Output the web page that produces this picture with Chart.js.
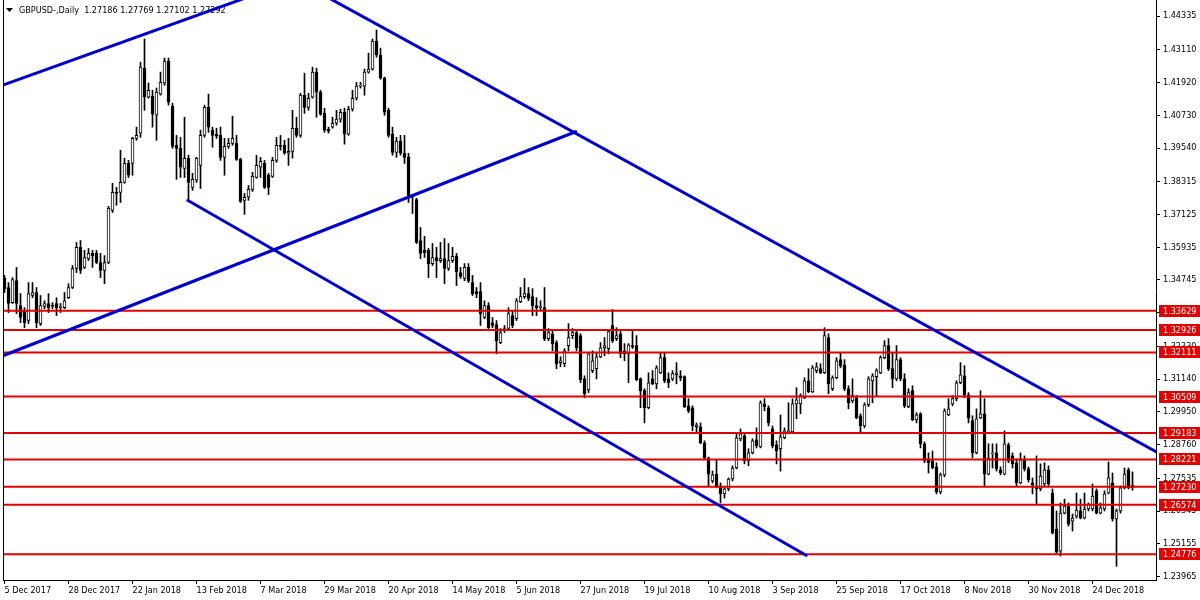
<!DOCTYPE html>
<html>
<head>
<meta charset="utf-8">
<script src="https://cdn.jsdelivr.net/npm/chart.js@4/dist/chart.umd.min.js"></script>
<style>
  html, body { margin: 0; padding: 0; background: #fff; }
</style>
</head>
<body>
<canvas id="chart" width="1200" height="600"></canvas>
<script>
// GBPUSD daily candles, 5 Dec 2017 .. early Jan 2019

const symbol = 'GBPUSD-,Daily';
const dateLabels = ['5 Dec 2017', '28 Dec 2017', '22 Jan 2018', '13 Feb 2018', '7 Mar 2018', '29 Mar 2018',
  '20 Apr 2018', '14 May 2018', '5 Jun 2018', '27 Jun 2018', '19 Jul 2018', '10 Aug 2018', '3 Sep 2018',
  '25 Sep 2018', '17 Oct 2018', '8 Nov 2018', '30 Nov 2018', '24 Dec 2018'];
const barsPerLabel = 16;

const opens = [
  1.3480, 1.3447, 1.3392, 1.3472, 1.3381, 1.3363, 1.3327, 1.3418, 1.3429, 1.3316,
  1.3378, 1.3389, 1.3381, 1.3389, 1.3374, 1.3374, 1.3410, 1.3447, 1.3516, 1.3593,
  1.3520, 1.3552, 1.3571, 1.3571, 1.3538, 1.3509, 1.3538, 1.3727, 1.3793, 1.3793,
  1.3829, 1.3898, 1.3898, 1.3989, 1.4008, 1.4244, 1.4139, 1.4142, 1.4073, 1.4150,
  1.4190, 1.4270, 1.4106, 1.3964, 1.3953, 1.3880, 1.3917, 1.3811, 1.3837, 1.3891,
  1.4000, 1.4102, 1.4019, 1.4004, 1.4000, 1.3920, 1.3960, 1.3971, 1.3971, 1.3913,
  1.3764, 1.3775, 1.3804, 1.3847, 1.3884, 1.3898, 1.3855, 1.3851, 1.3909, 1.3964,
  1.3964, 1.3935, 1.3942, 1.4026, 1.4000, 1.4146, 1.4102, 1.4139, 1.4230, 1.4157,
  1.4080, 1.4022, 1.4030, 1.4044, 1.4059, 1.4084, 1.4004, 1.4095, 1.4135, 1.4179,
  1.4179, 1.4230, 1.4241, 1.4343, 1.4292, 1.4208, 1.4091, 1.4004, 1.3938, 1.3979,
  1.3935, 1.3920, 1.3778, 1.3767, 1.3618, 1.3582, 1.3582, 1.3534, 1.3556, 1.3545,
  1.3552, 1.3516, 1.3545, 1.3560, 1.3501, 1.3480, 1.3520, 1.3465, 1.3432, 1.3432,
  1.3338, 1.3381, 1.3319, 1.3312, 1.3247, 1.3290, 1.3298, 1.3345, 1.3334, 1.3396,
  1.3414, 1.3425, 1.3414, 1.3381, 1.3374, 1.3374, 1.3261, 1.3279, 1.3247, 1.3174,
  1.3170, 1.3236, 1.3272, 1.3283, 1.3272, 1.3115, 1.3075, 1.3145, 1.3152, 1.3195,
  1.3228, 1.3225, 1.3309, 1.3261, 1.3279, 1.3217, 1.3206, 1.3236, 1.3236, 1.3115,
  1.3072, 1.3010, 1.3115, 1.3097, 1.3137, 1.3192, 1.3115, 1.3115, 1.3130, 1.3126,
  1.3123, 1.3017, 1.3010, 1.2941, 1.2941, 1.2882, 1.2828, 1.2744, 1.2769, 1.2726,
  1.2697, 1.2715, 1.2751, 1.2791, 1.2897, 1.2908, 1.2817, 1.2846, 1.2893, 1.2868,
  1.3024, 1.3010, 1.2933, 1.2875, 1.2861, 1.2901, 1.2919, 1.2922, 1.3024, 1.3024,
  1.3046, 1.3108, 1.3068, 1.3145, 1.3152, 1.3137, 1.3265, 1.3079, 1.3119, 1.3185,
  1.3166, 1.3079, 1.3035, 1.3046, 1.2981, 1.2944, 1.3021, 1.3108, 1.3123, 1.3137,
  1.3192, 1.3236, 1.3152, 1.3115, 1.3185, 1.3115, 1.3014, 1.3072, 1.2966, 1.2988,
  1.2879, 1.2824, 1.2817, 1.2795, 1.2704, 1.2766, 1.2984, 1.3024, 1.3043, 1.3101,
  1.3126, 1.3057, 1.2963, 1.2846, 1.2973, 1.2988, 1.2769, 1.2842, 1.2846, 1.2784,
  1.2769, 1.2875, 1.2835, 1.2810, 1.2737, 1.2821, 1.2788, 1.2737, 1.2722, 1.2715,
  1.2733, 1.2784, 1.2700, 1.2569, 1.2489, 1.2627, 1.2653, 1.2598, 1.2616, 1.2635,
  1.2609, 1.2642, 1.2642, 1.2708, 1.2627, 1.2642, 1.2700, 1.2737, 1.2606, 1.2635, 1.2719, 1.2784, 1.27186
];
const highs = [
  1.3491, 1.3465, 1.3483, 1.3520, 1.3425, 1.3374, 1.3465, 1.3465, 1.3447, 1.3418,
  1.3399, 1.3425, 1.3392, 1.3410, 1.3389, 1.3429, 1.3461, 1.3527, 1.3611, 1.3618,
  1.3582, 1.3589, 1.3582, 1.3582, 1.3571, 1.3563, 1.3742, 1.3826, 1.3811, 1.3946,
  1.3917, 1.3909, 1.3993, 1.4030, 1.4266, 1.4350, 1.4190, 1.4164, 1.4172, 1.4230,
  1.4281, 1.4281, 1.4117, 1.4000, 1.3993, 1.4066, 1.3928, 1.3862, 1.3920, 1.4019,
  1.4110, 1.4150, 1.4030, 1.4026, 1.4030, 1.3989, 1.3989, 1.4070, 1.4000, 1.3917,
  1.3789, 1.3818, 1.3866, 1.3928, 1.3920, 1.3909, 1.3862, 1.3920, 1.3993, 1.4000,
  1.3982, 1.3989, 1.4091, 1.4066, 1.4153, 1.4226, 1.4153, 1.4248, 1.4244, 1.4164,
  1.4099, 1.4030, 1.4066, 1.4091, 1.4095, 1.4099, 1.4106, 1.4164, 1.4193, 1.4193,
  1.4241, 1.4299, 1.4350, 1.4383, 1.4317, 1.4212, 1.4099, 1.4030, 1.3993, 1.4000,
  1.4000, 1.3935, 1.3782, 1.3771, 1.3665, 1.3633, 1.3589, 1.3607, 1.3593, 1.3611,
  1.3625, 1.3607, 1.3593, 1.3571, 1.3520, 1.3534, 1.3534, 1.3491, 1.3447, 1.3465,
  1.3399, 1.3392, 1.3338, 1.3327, 1.3298, 1.3309, 1.3374, 1.3363, 1.3407, 1.3447,
  1.3480, 1.3447, 1.3443, 1.3410, 1.3399, 1.3447, 1.3298, 1.3290, 1.3254, 1.3196,
  1.3225, 1.3316, 1.3298, 1.3290, 1.3279, 1.3126, 1.3210, 1.3217, 1.3210, 1.3247,
  1.3265, 1.3294, 1.3367, 1.3301, 1.3294, 1.3243, 1.3243, 1.3290, 1.3272, 1.3119,
  1.3079, 1.3137, 1.3145, 1.3163, 1.3210, 1.3210, 1.3137, 1.3145, 1.3174, 1.3145,
  1.3126, 1.3043, 1.3017, 1.2955, 1.2955, 1.2890, 1.2831, 1.2780, 1.2820, 1.2737,
  1.2719, 1.2755, 1.2799, 1.2919, 1.2933, 1.2919, 1.2861, 1.2897, 1.2937, 1.3035,
  1.3043, 1.3017, 1.2944, 1.2890, 1.2984, 1.2937, 1.3028, 1.3043, 1.3083, 1.3061,
  1.3119, 1.3152, 1.3163, 1.3174, 1.3170, 1.3301, 1.3279, 1.3126, 1.3192, 1.3210,
  1.3185, 1.3090, 1.3115, 1.3054, 1.2988, 1.3028, 1.3123, 1.3134, 1.3152, 1.3199,
  1.3254, 1.3261, 1.3210, 1.3236, 1.3192, 1.3134, 1.3079, 1.3090, 1.2992, 1.2992,
  1.2886, 1.2846, 1.2853, 1.2810, 1.2773, 1.3006, 1.3043, 1.3054, 1.3108, 1.3174,
  1.3163, 1.3065, 1.2981, 1.3006, 1.3072, 1.3043, 1.2879, 1.2879, 1.2879, 1.2795,
  1.2926, 1.2882, 1.2846, 1.2824, 1.2846, 1.2835, 1.2795, 1.2755, 1.2835, 1.2806,
  1.2810, 1.2799, 1.2715, 1.2635, 1.2664, 1.2678, 1.2664, 1.2624, 1.2700, 1.2678,
  1.2700, 1.2664, 1.2733, 1.2715, 1.2664, 1.2708, 1.2813, 1.2773, 1.2642, 1.2726, 1.2791, 1.2791, 1.27769
];
const lows = [
  1.3429, 1.3356, 1.3389, 1.3352, 1.3319, 1.3301, 1.3316, 1.3410, 1.3301, 1.3309,
  1.3370, 1.3356, 1.3370, 1.3345, 1.3356, 1.3370, 1.3407, 1.3443, 1.3501, 1.3498,
  1.3516, 1.3545, 1.3520, 1.3534, 1.3483, 1.3461, 1.3534, 1.3720, 1.3746, 1.3756,
  1.3826, 1.3847, 1.3855, 1.3982, 1.3993, 1.4091, 1.4135, 1.4030, 1.3982, 1.4146,
  1.4182, 1.4110, 1.3953, 1.3840, 1.3847, 1.3847, 1.3767, 1.3800, 1.3829, 1.3807,
  1.3993, 1.4011, 1.3957, 1.3989, 1.3909, 1.3855, 1.3953, 1.3964, 1.3909, 1.3756,
  1.3713, 1.3764, 1.3796, 1.3844, 1.3847, 1.3807, 1.3785, 1.3847, 1.3902, 1.3946,
  1.3931, 1.3891, 1.3917, 1.3993, 1.3993, 1.4080, 1.4091, 1.4135, 1.4066, 1.4073,
  1.4011, 1.4008, 1.4026, 1.4037, 1.4048, 1.3968, 1.4000, 1.4088, 1.4128, 1.4172,
  1.4146, 1.4226, 1.4237, 1.4284, 1.4204, 1.4073, 1.3993, 1.3928, 1.3920, 1.3928,
  1.3898, 1.3756, 1.3716, 1.3607, 1.3552, 1.3556, 1.3483, 1.3527, 1.3483, 1.3538,
  1.3461, 1.3509, 1.3538, 1.3454, 1.3480, 1.3472, 1.3465, 1.3418, 1.3410, 1.3309,
  1.3334, 1.3298, 1.3301, 1.3206, 1.3243, 1.3283, 1.3290, 1.3301, 1.3327, 1.3392,
  1.3407, 1.3399, 1.3345, 1.3345, 1.3363, 1.3254, 1.3254, 1.3217, 1.3152, 1.3159,
  1.3159, 1.3217, 1.3261, 1.3217, 1.3101, 1.3046, 1.3065, 1.3137, 1.3115, 1.3192,
  1.3199, 1.3206, 1.3247, 1.3254, 1.3192, 1.3181, 1.3101, 1.3225, 1.3108, 1.3010,
  1.2955, 1.3006, 1.3094, 1.3079, 1.3134, 1.3101, 1.3083, 1.3108, 1.3097, 1.3108,
  1.3010, 1.2992, 1.2926, 1.2922, 1.2879, 1.2824, 1.2726, 1.2737, 1.2719, 1.2664,
  1.2682, 1.2708, 1.2744, 1.2788, 1.2890, 1.2806, 1.2799, 1.2842, 1.2864, 1.2864,
  1.2999, 1.2944, 1.2864, 1.2806, 1.2780, 1.2897, 1.2915, 1.2919, 1.2970, 1.2988,
  1.3043, 1.3065, 1.3065, 1.3137, 1.3134, 1.3134, 1.3061, 1.3072, 1.3115, 1.3155,
  1.3072, 1.3006, 1.3028, 1.2970, 1.2922, 1.2937, 1.3014, 1.3028, 1.3054, 1.3134,
  1.3188, 1.3145, 1.3083, 1.3108, 1.3108, 1.3010, 1.3010, 1.2963, 1.2955, 1.2864,
  1.2810, 1.2773, 1.2788, 1.2697, 1.2697, 1.2759, 1.2981, 1.3017, 1.3035, 1.3097,
  1.3046, 1.2955, 1.2828, 1.2842, 1.2970, 1.2726, 1.2766, 1.2791, 1.2780, 1.2766,
  1.2766, 1.2810, 1.2791, 1.2726, 1.2733, 1.2780, 1.2740, 1.2697, 1.2660, 1.2708,
  1.2726, 1.2726, 1.2551, 1.2482, 1.2471, 1.2624, 1.2580, 1.2562, 1.2609, 1.2606,
  1.2606, 1.2635, 1.2635, 1.2624, 1.2624, 1.2635, 1.2697, 1.2598, 1.2434, 1.2627, 1.2715, 1.2715, 1.27102
];
const closes = [
  1.3443, 1.3389, 1.3476, 1.3389, 1.3338, 1.3319, 1.3425, 1.3429, 1.3319, 1.3381,
  1.3389, 1.3374, 1.3379, 1.3374, 1.3378, 1.3399, 1.3447, 1.3516, 1.3593, 1.3509,
  1.3556, 1.3571, 1.3563, 1.3538, 1.3509, 1.3538, 1.3735, 1.3793, 1.3789, 1.3829,
  1.3898, 1.3855, 1.3989, 1.4000, 1.4248, 1.4139, 1.4164, 1.4077, 1.4157, 1.4193,
  1.4270, 1.4121, 1.3960, 1.3953, 1.3884, 1.3917, 1.3829, 1.3840, 1.3917, 1.4000,
  1.4102, 1.4030, 1.4000, 1.3997, 1.3920, 1.3960, 1.3971, 1.3989, 1.3913, 1.3760,
  1.3775, 1.3804, 1.3851, 1.3891, 1.3906, 1.3811, 1.3811, 1.3909, 1.3964, 1.3960,
  1.3935, 1.3942, 1.4026, 1.4000, 1.4146, 1.4102, 1.4135, 1.4230, 1.4157, 1.4077,
  1.4019, 1.4015, 1.4044, 1.4059, 1.4084, 1.4004, 1.4095, 1.4135, 1.4179, 1.4182,
  1.4230, 1.4241, 1.4343, 1.4292, 1.4208, 1.4084, 1.4000, 1.3938, 1.3979, 1.3935,
  1.3920, 1.3782, 1.3775, 1.3611, 1.3571, 1.3574, 1.3534, 1.3556, 1.3545, 1.3552,
  1.3516, 1.3545, 1.3560, 1.3505, 1.3487, 1.3520, 1.3472, 1.3425, 1.3425, 1.3352,
  1.3381, 1.3301, 1.3309, 1.3254, 1.3283, 1.3298, 1.3352, 1.3309, 1.3399, 1.3414,
  1.3425, 1.3407, 1.3381, 1.3374, 1.3378, 1.3261, 1.3283, 1.3243, 1.3170, 1.3181,
  1.3217, 1.3265, 1.3283, 1.3228, 1.3112, 1.3061, 1.3206, 1.3181, 1.3195, 1.3228,
  1.3236, 1.3287, 1.3254, 1.3272, 1.3206, 1.3206, 1.3239, 1.3232, 1.3112, 1.3072,
  1.3010, 1.3101, 1.3097, 1.3155, 1.3192, 1.3108, 1.3101, 1.3134, 1.3137, 1.3119,
  1.3014, 1.2999, 1.2944, 1.2948, 1.2882, 1.2828, 1.2769, 1.2766, 1.2726, 1.2697,
  1.2715, 1.2751, 1.2791, 1.2901, 1.2915, 1.2817, 1.2846, 1.2890, 1.2871, 1.3028,
  1.3014, 1.2955, 1.2871, 1.2853, 1.2904, 1.2926, 1.2926, 1.3024, 1.3039, 1.3054,
  1.3108, 1.3068, 1.3155, 1.3159, 1.3137, 1.3272, 1.3097, 1.3119, 1.3181, 1.3163,
  1.3079, 1.3028, 1.3054, 1.2973, 1.2944, 1.3021, 1.3115, 1.3126, 1.3145, 1.3192,
  1.3236, 1.3152, 1.3115, 1.3185, 1.3115, 1.3017, 1.3065, 1.2966, 1.2984, 1.2879,
  1.2817, 1.2810, 1.2791, 1.2704, 1.2766, 1.2999, 1.3006, 1.3043, 1.3101, 1.3130,
  1.3057, 1.2973, 1.2846, 1.2970, 1.2988, 1.2769, 1.2828, 1.2846, 1.2788, 1.2773,
  1.2879, 1.2817, 1.2806, 1.2737, 1.2821, 1.2788, 1.2748, 1.2730, 1.2715, 1.2762,
  1.2784, 1.2733, 1.2555, 1.2485, 1.2627, 1.2653, 1.2587, 1.2609, 1.2638, 1.2609,
  1.2642, 1.2660, 1.2689, 1.2627, 1.2646, 1.2697, 1.2755, 1.2606, 1.2635, 1.2719, 1.2769, 1.2719, 1.27292
];

// horizontal support / resistance levels
const levels = [1.33629, 1.32926, 1.32111, 1.30509, 1.29183, 1.28221, 1.27230, 1.26574, 1.24776];

// trend lines, each [bar index, price] -> [bar index, price]
const trendLines = [
  [[-0.4, 1.4183], [68, 1.4540]],
  [[-0.4, 1.3199], [143.1, 1.4015]],
  [[77, 1.4532], [288, 1.2849]],
  [[45.55, 1.3766], [200.7, 1.2471]]
];

// price axis labels as shown by the terminal
const yTicks = [1.44335, 1.43110, 1.41920, 1.40730, 1.39540, 1.38315, 1.37125, 1.35935, 1.34745,
  1.33555, 1.32330, 1.31140, 1.29950, 1.28760, 1.27535, 1.26345, 1.25155, 1.23965];

const FONT = '"DejaVu Sans Condensed", "Liberation Sans", Arial, sans-serif';
const RED = '#e30000';
const BLUE = '#0000cd';

const n = opens.length;
const wicks = [], bodies = [];
for (let i = 0; i < n; i++) {
  wicks.push({ x: i, y: [lows[i], highs[i]] });
  bodies.push({ x: i, y: [opens[i], closes[i]] });
}

const datasets = [];
trendLines.forEach(seg => {
  datasets.push({
    type: 'line',
    data: seg.map(p => ({ x: p[0], y: p[1] })),
    borderColor: BLUE,
    borderWidth: 3,
    pointRadius: 0,
    tension: 0,
    order: 1
  });
});
levels.forEach(v => {
  datasets.push({
    type: 'line',
    data: [{ x: -1, y: v }, { x: 290, y: v }],
    borderColor: RED,
    borderWidth: 2,
    pointRadius: 0,
    order: 2
  });
});
datasets.push({
  type: 'bar',
  data: bodies,
  grouped: false,
  barThickness: 3,
  minBarLength: 1,
  borderWidth: 1,
  borderSkipped: false,
  borderColor: '#000',
  backgroundColor: ctx => (closes[ctx.dataIndex] >= opens[ctx.dataIndex] ? '#fff' : '#000'),
  order: 3
});
datasets.push({
  type: 'bar',
  data: wicks,
  grouped: false,
  barThickness: 1,
  borderWidth: 0,
  backgroundColor: '#000',
  order: 4
});

// title, left frame and the red price boxes on the axis
const decorations = {
  id: 'decorations',
  beforeDatasetsDraw(chart) {
    const ctx = chart.ctx;
    const last = n - 1;
    const txt = symbol + '  ' + [opens[last], highs[last], lows[last], closes[last]].map(v => v.toFixed(5)).join(' ');
    ctx.save();
    ctx.fillStyle = '#000';
    ctx.beginPath();
    ctx.moveTo(6, 8); ctx.lineTo(13, 8); ctx.lineTo(9.5, 12); ctx.closePath();
    ctx.fill();
    ctx.font = '9px ' + FONT;
    ctx.textBaseline = 'middle';
    ctx.fillText(txt, 19, 11);
    ctx.restore();
  },
  afterDraw(chart) {
    const { ctx, chartArea } = chart;
    const y = chart.scales.y;
    ctx.save();
    ctx.strokeStyle = '#000';
    ctx.lineWidth = 1;
    ctx.beginPath();
    ctx.moveTo(chartArea.left + 0.5, chartArea.top);
    ctx.lineTo(chartArea.left + 0.5, chartArea.bottom);
    ctx.stroke();
    ctx.font = '9px ' + FONT;
    ctx.textBaseline = 'middle';
    levels.forEach(v => {
      const py = Math.round(y.getPixelForValue(v));
      ctx.fillStyle = RED;
      ctx.fillRect(chartArea.right + 3, py - 6, 41, 12);
      ctx.fillStyle = '#fff';
      ctx.fillText(v.toFixed(5), chartArea.right + 7, py + 0.5);
    });
    ctx.restore();
  }
};

new Chart(document.getElementById('chart'), {
  type: 'bar',
  data: { datasets },
  options: {
    responsive: false,
    animation: false,
    devicePixelRatio: 1,
    events: [],
    layout: { padding: { left: 3, top: 0, right: 0, bottom: 0 } },
    plugins: { legend: { display: false }, tooltip: { enabled: false } },
    scales: {
      x: {
        type: 'linear',
        min: -0.375,
        max: 287.875,
        offset: false,
        afterFit: s => { s.height = 20; s.paddingLeft = 0; s.paddingRight = 0; },
        afterBuildTicks: s => { s.ticks = dateLabels.map((_, k) => ({ value: k * barsPerLabel })); },
        border: { display: true, color: '#000', width: 1 },
        grid: { display: true, drawOnChartArea: false, drawTicks: true, tickLength: 4, color: '#000', offset: false },
        ticks: {
          autoSkip: false, maxRotation: 0, align: 'start', padding: 1, color: '#000',
          font: { family: FONT, size: 9 },
          callback: v => dateLabels[Math.round(v / barsPerLabel)]
        }
      },
      y: {
        type: 'linear',
        position: 'right',
        min: 1.2384,
        max: 1.4492,
        afterFit: s => { s.width = 44; s.paddingTop = 0; s.paddingBottom = 0; },
        afterBuildTicks: s => { s.ticks = yTicks.map(v => ({ value: v })); },
        border: { display: true, color: '#000', width: 1 },
        grid: { display: true, drawOnChartArea: false, drawTicks: true, tickLength: 4, color: '#000' },
        ticks: {
          padding: 3, color: '#000',
          font: { family: FONT, size: 9 },
          callback: v => v.toFixed(5)
        }
      }
    }
  },
  plugins: [decorations]
});
</script>
</body>
</html>
